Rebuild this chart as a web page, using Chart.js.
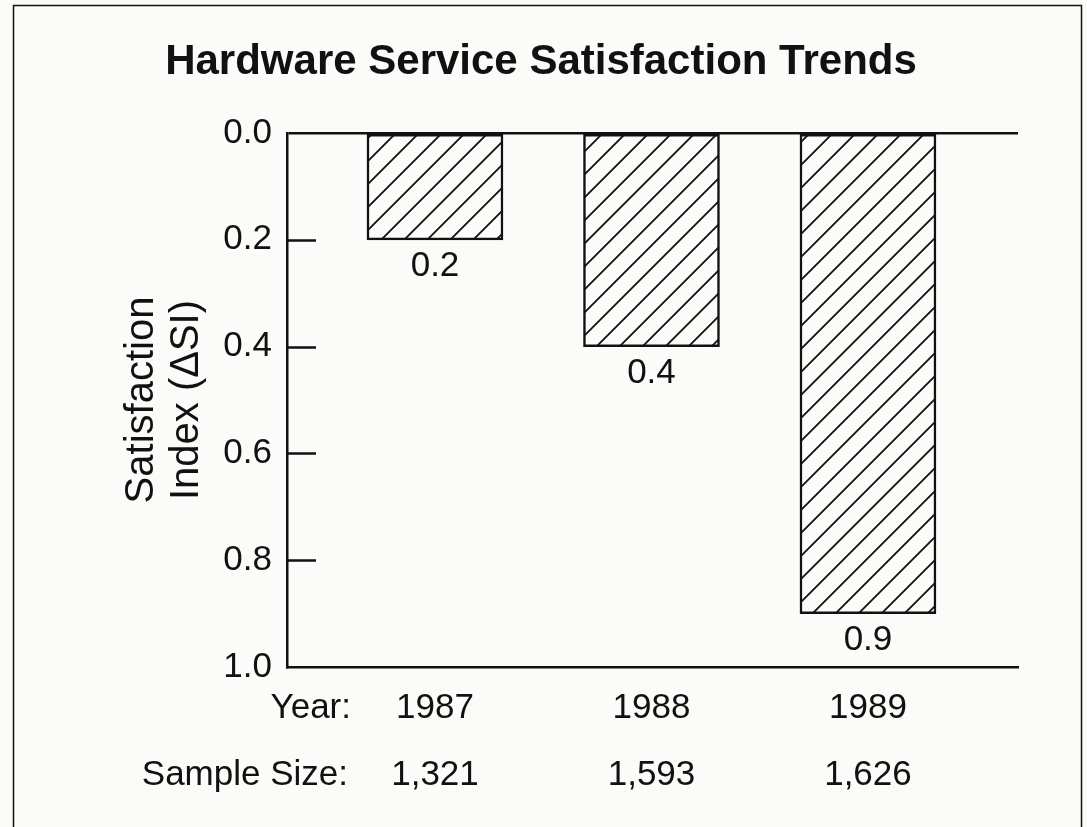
<!DOCTYPE html>
<html>
<head>
<meta charset="utf-8">
<script src="https://cdn.jsdelivr.net/npm/chart.js@4.4.1/dist/chart.umd.min.js"></script>
<style>
  html, body { margin: 0; padding: 0; background: #fbfbf9; }
  #wrap { width: 1087px; height: 827px; position: relative; }
</style>
</head>
<body>
<div id="wrap"><canvas id="satChart" width="1087" height="827"></canvas></div>
<script>
// Chart data
const years = ["1987", "1988", "1989"];
const sampleSizes = ["1,321", "1,593", "1,626"];
const satisfaction = [0.2, 0.4, 0.9];
const yTickValues = [0, 0.2, 0.4, 0.6, 0.8, 1.0];
const rowHeaders = ["Year:", "Sample Size:"];

const FONT = "'Liberation Sans', Arial, Helvetica, sans-serif";
const INK = "#111111";

// Diagonal hatch pattern for the bars
function makeHatch() {
  const size = 23;
  const c = document.createElement("canvas");
  c.width = size;
  c.height = size;
  const g = c.getContext("2d");
  g.fillStyle = "#fbfbf9";
  g.fillRect(0, 0, size, size);
  g.strokeStyle = INK;
  g.lineWidth = 1.8;
  g.beginPath();
  g.moveTo(-2, size + 2);
  g.lineTo(size + 2, -2);
  g.moveTo(-2, 2);
  g.lineTo(2, -2);
  g.moveTo(size - 2, size + 2);
  g.lineTo(size + 2, size - 2);
  g.stroke();
  return g.createPattern(c, "repeat");
}

// Frame, inner tick marks, value labels and row headers
const extrasPlugin = {
  id: "extras",
  beforeDraw(chart) {
    const ctx = chart.ctx;
    ctx.save();
    ctx.strokeStyle = INK;
    ctx.lineWidth = 1.5;
    ctx.beginPath();
    ctx.moveTo(13.5, 827);
    ctx.lineTo(13.5, 5.5);
    ctx.lineTo(1081.5, 5.5);
    ctx.lineTo(1081.5, 827);
    ctx.stroke();
    ctx.restore();
  },
  afterDraw(chart) {
    const ctx = chart.ctx;
    const y = chart.scales.y;
    const x = chart.scales.x;
    const area = chart.chartArea;
    ctx.save();
    // tick marks pointing into the plot
    ctx.strokeStyle = INK;
    ctx.lineWidth = 2.5;
    y.ticks.forEach((t) => {
      if (t.value <= 0 || t.value >= 1) return;
      const py = Math.round(y.getPixelForValue(t.value)) + 0.5;
      ctx.beginPath();
      ctx.moveTo(area.left, py);
      ctx.lineTo(area.left + 29, py);
      ctx.stroke();
    });
    // values under each bar
    ctx.fillStyle = INK;
    ctx.font = "35px " + FONT;
    ctx.textAlign = "center";
    ctx.textBaseline = "middle";
    chart.getDatasetMeta(0).data.forEach((bar, i) => {
      ctx.fillText(satisfaction[i].toFixed(1), bar.x, bar.y + 27);
    });
    // row headers for the x labels
    ctx.textAlign = "right";
    const lh = 67;
    const firstRow = x.top + 8 + lh / 2;
    ctx.fillText(rowHeaders[0], 351, firstRow);
    ctx.fillText(rowHeaders[1], 348, firstRow + lh);
    ctx.restore();
  }
};

const ctx = document.getElementById("satChart").getContext("2d");

new Chart(ctx, {
  type: "bar",
  data: {
    datasets: [
      {
        label: "Satisfaction Index",
        data: satisfaction.map((v, i) => ({ x: i, y: v })),
        backgroundColor: makeHatch(),
        borderColor: INK,
        borderWidth: 2.5,
        borderSkipped: false,
        barThickness: 136
      }
    ]
  },
  options: {
    responsive: false,
    animation: false,
    layout: { padding: { left: 64, right: 69, top: 0, bottom: 0 } },
    plugins: {
      legend: { display: false },
      tooltip: { enabled: false },
      title: {
        display: true,
        text: "Hardware Service Satisfaction Trends",
        color: INK,
        font: { family: FONT, size: 42, weight: "bold", lineHeight: 1.2 },
        padding: { top: 37, bottom: 45.6 }
      }
    },
    scales: {
      x: {
        type: "linear",
        offset: false,
        min: -0.6836,
        max: 2.693,
        grid: { display: false, drawTicks: false, tickLength: 0 },
        border: { display: true, color: INK, width: 2.5 },
        afterBuildTicks: (s) => {
          s.ticks = years.map((_, i) => ({ value: i }));
        },
        afterFit: (s) => {
          s.height = 160;
        },
        ticks: {
          padding: 8,
          color: INK,
          maxRotation: 0,
          autoSkip: false,
          font: { family: FONT, size: 35, lineHeight: 67 / 35 },
          callback: (v) => [years[v], sampleSizes[v]]
        }
      },
      y: {
        reverse: true,
        min: 0,
        max: 1,
        afterBuildTicks: (s) => {
          s.ticks = yTickValues.map((v) => ({ value: v }));
        },
        afterFit: (s) => {
          s.width = 223;
        },
        grid: {
          drawTicks: false,
          tickLength: 0,
          lineWidth: 2.5,
          color: (c) => (c.tick && c.tick.value === 0 ? INK : "rgba(0,0,0,0)")
        },
        border: { display: true, color: INK, width: 2.5 },
        ticks: {
          padding: 15,
          color: INK,
          font: { family: FONT, size: 35 },
          callback: (v) => Number(v).toFixed(1)
        },
        title: {
          display: true,
          text: ["Satisfaction", "Index (\u0394SI)"],
          color: INK,
          font: { family: FONT, size: 40, lineHeight: 1.12 },
          padding: { top: 56, bottom: 0 }
        }
      }
    }
  },
  plugins: [extrasPlugin]
});
</script>
</body>
</html>
